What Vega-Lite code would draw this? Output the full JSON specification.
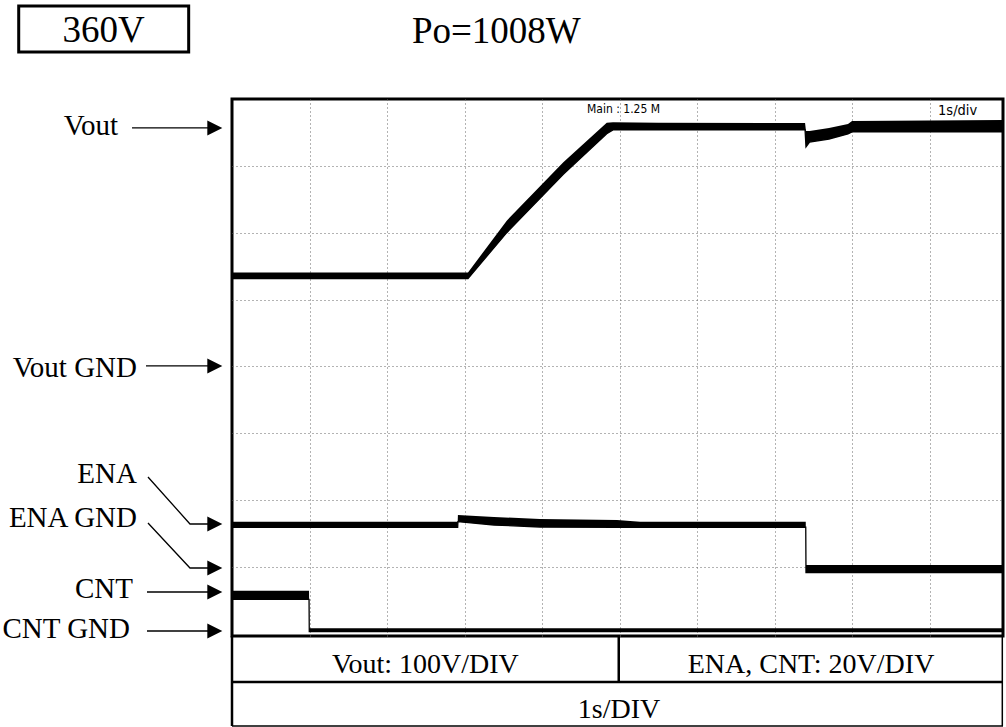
{
  "$schema": "https://vega.github.io/schema/vega-lite/v6.json",
  "width": 771,
  "height": 537,
  "autosize": {"type": "none"},
  "padding": {"left": 232, "top": 99, "right": 3, "bottom": 91},
  "background": "white",
  "config": {
    "view": {"stroke": "black", "strokeWidth": 3},
    "text": {"font": "Liberation Serif", "color": "black"}
  },
  "resolve": {"axis": {"x": "independent", "y": "independent"}},
  "datasets": {
    "traces": [
      {"sig": "Vout", "t": 0, "lo": 5.316, "hi": 5.406},
      {"sig": "Vout", "t": 3.045, "lo": 5.316, "hi": 5.406},
      {"sig": "Vout", "t": 3.545, "lo": 6.001, "hi": 6.181},
      {"sig": "Vout", "t": 4.275, "lo": 6.874, "hi": 7.054},
      {"sig": "Vout", "t": 4.835, "lo": 7.48, "hi": 7.645},
      {"sig": "Vout", "t": 4.916, "lo": 7.537, "hi": 7.652},
      {"sig": "Vout", "t": 5.5, "lo": 7.537, "hi": 7.645},
      {"sig": "Vout", "t": 7.394, "lo": 7.537, "hi": 7.64},
      {"sig": "Vout", "t": 7.406, "lo": 7.283, "hi": 7.522},
      {"sig": "Vout", "t": 7.452, "lo": 7.357, "hi": 7.522},
      {"sig": "Vout", "t": 7.703, "lo": 7.402, "hi": 7.567},
      {"sig": "Vout", "t": 7.948, "lo": 7.478, "hi": 7.627},
      {"sig": "Vout", "t": 8.0, "lo": 7.507, "hi": 7.672},
      {"sig": "Vout", "t": 9.948, "lo": 7.507, "hi": 7.687},
      {"sig": "ENA", "t": 0, "lo": 1.596, "hi": 1.679},
      {"sig": "ENA", "t": 2.912, "lo": 1.596, "hi": 1.679},
      {"sig": "ENA", "t": 2.915, "lo": 1.679, "hi": 1.78},
      {"sig": "ENA", "t": 3.381, "lo": 1.63, "hi": 1.75},
      {"sig": "ENA", "t": 3.974, "lo": 1.6, "hi": 1.72},
      {"sig": "ENA", "t": 4.968, "lo": 1.596, "hi": 1.705},
      {"sig": "ENA", "t": 5.265, "lo": 1.596, "hi": 1.679},
      {"sig": "ENA", "t": 7.403, "lo": 1.596, "hi": 1.679},
      {"sig": "ENA", "t": 7.406, "lo": 0.917, "hi": 1.032},
      {"sig": "ENA", "t": 9.948, "lo": 0.917, "hi": 1.032},
      {"sig": "CNT", "t": 0, "lo": 0.519, "hi": 0.648},
      {"sig": "CNT", "t": 0.994, "lo": 0.519, "hi": 0.648},
      {"sig": "CNT", "t": 0.997, "lo": 0.034, "hi": 0.085},
      {"sig": "CNT", "t": 9.948, "lo": 0.034, "hi": 0.085}
    ],
    "arrows": [
      {"id": "Vout", "k": 0, "t": -1.29, "d": 7.567},
      {"id": "Vout", "k": 1, "t": -0.232, "d": 7.567},
      {"id": "Vout GND", "k": 0, "t": -1.11, "d": 4.008},
      {"id": "Vout GND", "k": 1, "t": -0.232, "d": 4.008},
      {"id": "ENA", "k": 0, "t": -1.084, "d": 2.348},
      {"id": "ENA", "k": 1, "t": -0.542, "d": 1.645},
      {"id": "ENA", "k": 2, "t": -0.232, "d": 1.645},
      {"id": "ENA GND", "k": 0, "t": -1.084, "d": 1.66},
      {"id": "ENA GND", "k": 1, "t": -0.542, "d": 0.987},
      {"id": "ENA GND", "k": 2, "t": -0.232, "d": 0.987},
      {"id": "CNT", "k": 0, "t": -1.097, "d": 0.628},
      {"id": "CNT", "k": 1, "t": -0.232, "d": 0.628},
      {"id": "CNT GND", "k": 0, "t": -1.097, "d": 0.045},
      {"id": "CNT GND", "k": 1, "t": -0.232, "d": 0.045}
    ],
    "heads": [
      {"id": "Vout", "t": -0.222, "d": 7.567},
      {"id": "Vout GND", "t": -0.222, "d": 4.008},
      {"id": "ENA", "t": -0.222, "d": 1.645},
      {"id": "ENA GND", "t": -0.222, "d": 0.987},
      {"id": "CNT", "t": -0.222, "d": 0.628},
      {"id": "CNT GND", "t": -0.222, "d": 0.045}
    ],
    "sideLabels": [
      {"text": "Vout", "t": -1.471, "d": 7.462},
      {"text": "Vout GND", "t": -1.226, "d": 3.843},
      {"text": "ENA", "t": -1.226, "d": 2.258},
      {"text": "ENA GND", "t": -1.226, "d": 1.6},
      {"text": "CNT", "t": -1.277, "d": 0.538},
      {"text": "CNT GND", "t": -1.316, "d": -0.06}
    ],
    "tableRules": [
      {"t": 0, "t2": 0, "d": -0.03, "d2": -1.376, "line": "heavy"},
      {"t": 9.939, "t2": 9.939, "d": -0.03, "d2": -1.376, "line": "light"},
      {"t": 0, "t2": 9.948, "d": -0.718, "d2": -0.718, "line": "heavy"},
      {"t": 0, "t2": 9.948, "d": -1.376, "d2": -1.376, "line": "light"},
      {"t": 4.99, "t2": 4.99, "d": -0.03, "d2": -0.718, "line": "heavy"}
    ],
    "tableText": [
      {"text": "Vout: 100V/DIV", "t": 2.495, "d": -0.583},
      {"text": "ENA, CNT: 20V/DIV", "t": 7.471, "d": -0.583},
      {"text": "1s/DIV", "t": 4.994, "d": -1.256}
    ],
    "titleBox": [
      {"t": -2.752, "t2": -0.559, "d": 9.391, "d2": 8.703}
    ],
    "titles": [
      {"text": "360V", "t": -1.658, "d": 8.853},
      {"text": "Po=1008W", "t": 3.411, "d": 8.838}
    ]
  },
  "layer": [
    {
      "data": {"name": "traces"},
      "mark": {"type": "area", "color": "black", "opacity": 1},
      "encoding": {
        "x": {
          "field": "t", "type": "quantitative",
          "scale": {"domain": [0, 9.948], "nice": false, "zero": false},
          "axis": {"values": [1, 2, 3, 4, 5, 6, 7, 8, 9], "grid": true, "gridDash": [1, 3], "gridColor": "#666", "gridWidth": 1, "labels": false, "ticks": false, "domain": false, "title": null}
        },
        "y": {
          "field": "hi", "type": "quantitative",
          "scale": {"domain": [-0.03, 8], "nice": false, "zero": false},
          "axis": {"values": [1, 2, 3, 4, 5, 6, 7], "grid": true, "gridDash": [1, 3], "gridColor": "#666", "gridWidth": 1, "labels": false, "ticks": false, "domain": false, "title": null}
        },
        "y2": {"field": "lo"},
        "detail": {"field": "sig"}
      }
    },
    {
      "data": {"name": "traces"},
      "mark": {"type": "line", "color": "black", "strokeWidth": 1.3},
      "encoding": {
        "x": {"field": "t", "type": "quantitative", "axis": null},
        "y": {"field": "lo", "type": "quantitative", "axis": null},
        "detail": {"field": "sig"}
      }
    },
    {
      "data": {"name": "arrows"},
      "mark": {"type": "line", "color": "black", "strokeWidth": 1.3},
      "encoding": {
        "x": {"field": "t", "type": "quantitative", "axis": null},
        "y": {"field": "d", "type": "quantitative", "axis": null},
        "detail": {"field": "id"},
        "order": {"field": "k"}
      }
    },
    {
      "data": {"name": "heads"},
      "mark": {"type": "point", "shape": "M-1,-1L1,0L-1,1Z", "filled": true, "color": "black", "opacity": 1, "size": 225},
      "encoding": {
        "x": {"field": "t", "type": "quantitative", "axis": null},
        "y": {"field": "d", "type": "quantitative", "axis": null}
      }
    },
    {
      "data": {"name": "sideLabels"},
      "mark": {"type": "text", "align": "right", "baseline": "alphabetic", "fontSize": 29},
      "encoding": {
        "x": {"field": "t", "type": "quantitative", "axis": null},
        "y": {"field": "d", "type": "quantitative", "axis": null},
        "text": {"field": "text"}
      }
    },
    {
      "data": {"name": "tableRules"},
      "mark": {"type": "rule", "color": "black"},
      "encoding": {
        "x": {"field": "t", "type": "quantitative", "axis": null},
        "x2": {"field": "t2"},
        "y": {"field": "d", "type": "quantitative", "axis": null},
        "y2": {"field": "d2"},
        "strokeWidth": {"field": "line", "type": "nominal", "scale": {"domain": ["heavy", "light"], "range": [2.5, 1.5]}, "legend": null}
      }
    },
    {
      "data": {"name": "tableText"},
      "mark": {"type": "text", "align": "center", "baseline": "alphabetic", "fontSize": 28},
      "encoding": {
        "x": {"field": "t", "type": "quantitative", "axis": null},
        "y": {"field": "d", "type": "quantitative", "axis": null},
        "text": {"field": "text"}
      }
    },
    {
      "data": {"name": "titleBox"},
      "mark": {"type": "rect", "fill": null, "fillOpacity": 0, "stroke": "black", "strokeWidth": 3},
      "encoding": {
        "x": {"field": "t", "type": "quantitative", "axis": null},
        "x2": {"field": "t2"},
        "y": {"field": "d", "type": "quantitative", "axis": null},
        "y2": {"field": "d2"}
      }
    },
    {
      "data": {"name": "titles"},
      "mark": {"type": "text", "align": "center", "baseline": "alphabetic", "fontSize": 37},
      "encoding": {
        "x": {"field": "t", "type": "quantitative", "axis": null},
        "y": {"field": "d", "type": "quantitative", "axis": null},
        "text": {"field": "text"}
      }
    },
    {
      "data": {"values": [{"text": "Main : 1.25 M", "t": 4.581, "d": 7.791}]},
      "mark": {"type": "text", "align": "left", "baseline": "alphabetic", "fontSize": 12, "font": "Liberation Sans Narrow, Arial Narrow, DejaVu Sans Condensed, Liberation Sans, sans-serif"},
      "encoding": {
        "x": {"field": "t", "type": "quantitative", "axis": null},
        "y": {"field": "d", "type": "quantitative", "axis": null},
        "text": {"field": "text"}
      }
    },
    {
      "data": {"values": [{"text": "1s/div", "t": 9.11, "d": 7.761}]},
      "mark": {"type": "text", "align": "left", "baseline": "alphabetic", "fontSize": 14.5, "font": "Liberation Sans Narrow, Arial Narrow, DejaVu Sans Condensed, Liberation Sans, sans-serif"},
      "encoding": {
        "x": {"field": "t", "type": "quantitative", "axis": null},
        "y": {"field": "d", "type": "quantitative", "axis": null},
        "text": {"field": "text"}
      }
    }
  ]
}
